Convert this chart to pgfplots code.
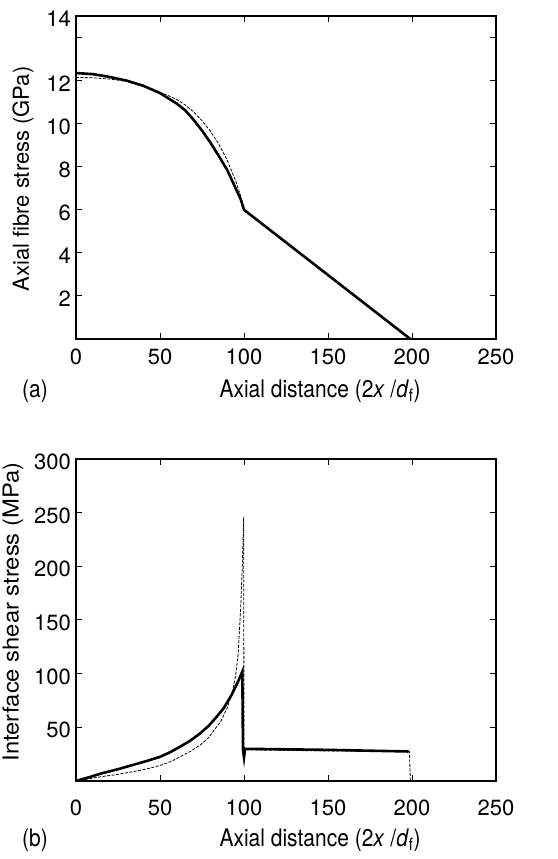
\documentclass[border=0pt]{standalone}
\usepackage{fontspec}
\setmainfont{TeX Gyre Heros}
\usepackage{pgfplots}
\pgfplotsset{compat=1.18}

\pgfplotstableread{
x y
0 12.35
10 12.30
20 12.17
30 12.0
40 11.76
50 11.42
60 10.93
65 10.62
70 10.18
75 9.68
80 9.12
85 8.5
90 7.85
95 7.0
98 6.5
100 6.0
150 2.97
199 0
}\asolid
\pgfplotstableread{
x y
0 12.15
10 12.13
20 12.07
30 11.97
40 11.78
50 11.47
55 11.3
60 11.12
65 10.87
70 10.55
75 10.14
80 9.65
85 9.05
90 8.3
95 7.35
98 6.65
100 6.0
199 0
}\adashed
\pgfplotstableread{
x y
0 0
8 3.6
15 7
25 11
34 15
42 18.6
50 22.5
56 26.8
62 32
68 37.5
74 44.5
79 51.5
83 58.5
88 68
92.5 80
96 91
99 102
99.4 29
100 22
100.6 30
150 29
198 27.5
}\bsolid
\pgfplotstableread{
x y
0 0
15 4
25 6.2
34 8.7
43 11.5
51 15
57 18.5
62 22.7
68 27.5
74 33.5
79 40.5
83 49
86 55
88 61.5
90 68
93 82
95 98
96.5 118
98 160
99 200
99.8 246
100 25
101 29
150 28
198.5 27.5
199 0
}\bdashed

\newcommand\tickfont{\fontsize{22pt}{26pt}\selectfont}
\newcommand\xlab{\scalebox{1}[1.15]{\fontsize{21pt}{25pt}\selectfont Axial distance (2\textit{x} /\textit{d}\textsubscript{f})}}

\begin{document}
\tickfont
\begin{tikzpicture}
\path[use as bounding box] (0pt,0pt) rectangle (557pt,859pt);
\pgfplotsset{
 mystyle/.style={
  scale only axis, width=420pt,
  xmin=0, xmax=250,
  axis line style={line width=1.2pt},
  every tick/.style={line width=1pt, black},
  major tick length=6pt,
  tick align=inside,
  xtick={0,50,...,250},
  /pgf/number format/assume math mode=true,
  ticklabel style={font=\tickfont},
  yticklabel style={inner sep=0pt, xshift=-5pt, yshift=-3pt},
  xticklabel style={anchor=center},
  solidline/.style={black, line width=2.6pt},
  dashline/.style={black, line width=0.8pt, dash pattern=on 3pt off 1.5pt},
 }
}
% (a)
\begin{axis}[mystyle, at={(76pt,520pt)}, anchor=south west, height=323pt,
  ymin=0, ymax=15,
  ytick={2,4,...,14}, yticklabels={2,4,6,8,10,12,{}},
  extra y ticks={15}, extra y tick labels={14},
  extra y tick style={major tick length=0pt},
  xticklabel style={yshift=-18pt}]
\addplot[dashline] table {\adashed};
\addplot[solidline] table {\asolid};
\end{axis}
% (b)
\begin{axis}[mystyle, at={(76pt,78pt)}, anchor=south west, height=322pt,
  ymin=0, ymax=300,
  ytick={50,100,...,300},
  xticklabel style={yshift=-27pt}]
\addplot[dashline] table {\bdashed};
\addplot[solidline] table {\bsolid};
\end{axis}
\node at (320pt,468pt) {\xlab};
\node at (35pt,468pt) {\scalebox{1}[1.15]{\fontsize{21pt}{25pt}\selectfont (a)}};
\node[rotate=90] at (23pt,680pt) {\fontsize{22pt}{26pt}\selectfont Axial fibre stress (GPa)};
\node at (320pt,19pt) {\xlab};
\node at (35pt,19pt) {\scalebox{1}[1.15]{\fontsize{21pt}{25pt}\selectfont (b)}};
\node[rotate=90] at (13pt,247pt) {\scalebox{1.08}[1]{\fontsize{22pt}{26pt}\selectfont Interface shear stress (MPa)}};
\end{tikzpicture}
\end{document}
